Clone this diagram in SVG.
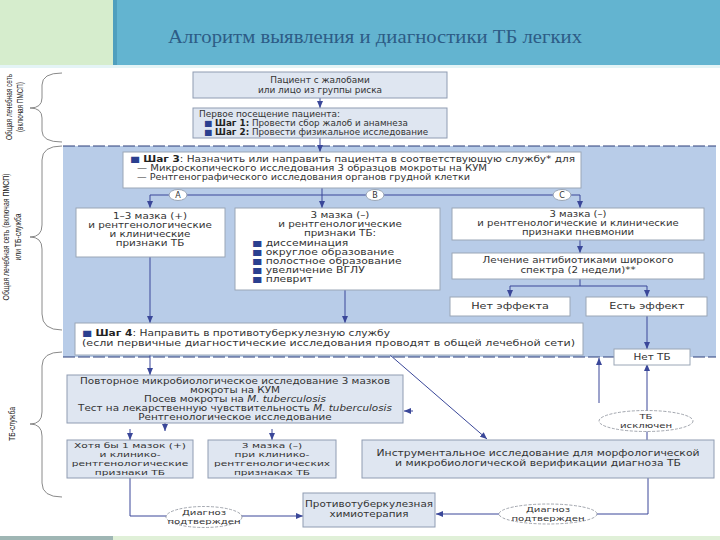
<svg xmlns="http://www.w3.org/2000/svg" width="720" height="540" viewBox="0 0 720 540">
<defs>
<style>
.t{font-family:"DejaVu Sans","Liberation Sans",sans-serif;font-size:8px;fill:#333}
.s{font-size:7.5px}
.c{text-anchor:middle}
.b{font-weight:bold;fill:#222}
.sq{fill:#2b3f8f}
.bx{fill:#ffffff;stroke:#9aa6b6;stroke-width:1}
.bg{fill:#dfe6f1;stroke:#8f9cb2;stroke-width:1}
.el{fill:#ffffff;stroke:#8a8f99;stroke-width:0.8;stroke-dasharray:3 1.5}
.ln{fill:none;stroke:#3a4799;stroke-width:1}
.br{fill:none;stroke:#8a8a8a;stroke-width:1}
.lbl{font-family:"Liberation Sans","DejaVu Sans",sans-serif;font-size:9px;fill:#222;text-anchor:middle}
</style>
<marker id="ar" markerWidth="7" markerHeight="6" refX="7" refY="3" orient="auto" markerUnits="userSpaceOnUse">
<path d="M0,0 L7,3 L0,6 z" fill="#3a4799"/>
</marker>
</defs>
<rect x="0" y="0" width="720" height="540" fill="#ffffff"/>
<!-- header -->
<rect x="0" y="0" width="113" height="65" fill="#d6edcd"/>
<rect x="113" y="0" width="607" height="65" fill="#63b4d0"/>
<rect x="113" y="0" width="4" height="65" fill="#4f9fbe"/>
<rect x="0" y="65" width="720" height="3" fill="#e4f4f6"/>
<text x="168" y="43" font-family="Liberation Serif,serif" font-size="18" fill="#2d5c86" textLength="414" lengthAdjust="spacingAndGlyphs">Алгоритм выявления и диагностики ТБ легких</text>
<!-- bottom strip -->
<rect x="0" y="536" width="113" height="4" fill="#9fb6b4"/>
<rect x="113" y="536" width="607" height="4" fill="#e0f0d8"/>
<!-- blue zone -->
<rect x="63" y="146" width="653" height="211" fill="#b8cce8"/>
<line x1="63" y1="146" x2="716" y2="146" stroke="#2c3e7a" stroke-width="1.2" stroke-dasharray="12 3"/>
<line x1="63" y1="357" x2="716" y2="357" stroke="#2c3e7a" stroke-width="1.2" stroke-dasharray="12 3"/>
<!-- braces and side labels -->
<g id="side">
<path class="br" d="M62,73 Q42,73 42,85 L42,98 Q42,108 30,108 Q42,108 42,118 L42,131 Q42,142 62,142"/>
<path class="br" d="M62,146 Q42,146 42,160 L42,225 Q42,237 30,237 Q42,237 42,249 L42,314 Q42,330 62,330"/>
<path class="br" d="M62,352 Q42,352 42,366 L42,412 Q42,424 30,424 Q42,424 42,436 L42,483 Q42,497 62,497"/>
<text class="lbl" transform="translate(12,107) rotate(-90)" textLength="66" lengthAdjust="spacingAndGlyphs">Общая лечебная сеть</text>
<text class="lbl" transform="translate(23,107) rotate(-90)" textLength="50" lengthAdjust="spacingAndGlyphs">(включая ПМСП)</text>
<text class="lbl" transform="translate(9,237) rotate(-90)" textLength="127" lengthAdjust="spacingAndGlyphs">Общая лечебная сеть (включая ПМСП)</text>
<text class="lbl" transform="translate(21,237) rotate(-90)" textLength="47" lengthAdjust="spacingAndGlyphs">или ТБ-служба</text>
<text class="lbl" transform="translate(15,424) rotate(-90)" textLength="34" lengthAdjust="spacingAndGlyphs">ТБ-служба</text>
</g>
<!-- connectors -->
<g id="connectors">
<path class="ln" d="M320,98 V108" marker-end="url(#ar)"/>
<path class="ln" d="M320,138 V152" marker-end="url(#ar)"/>
<path class="ln" d="M322,188 V208" marker-end="url(#ar)"/>
<path class="ln" d="M150,195 H580"/>
<path class="ln" d="M150,195 V208" marker-end="url(#ar)"/>
<path class="ln" d="M580,195 V208" marker-end="url(#ar)"/>
<path class="ln" d="M580,240 V253" marker-end="url(#ar)"/>
<path class="ln" d="M580,279 V286 M510,286 H647"/>
<path class="ln" d="M510,286 V297" marker-end="url(#ar)"/>
<path class="ln" d="M647,286 V297" marker-end="url(#ar)"/>
<path class="ln" d="M647,316 V349" marker-end="url(#ar)"/>
<path class="ln" d="M150,257 V323" marker-end="url(#ar)"/>
<path class="ln" d="M345,290 V323" marker-end="url(#ar)"/>
<path class="ln" d="M150,355 V375" marker-end="url(#ar)"/>
<path class="ln" d="M390,355 L487,439" marker-end="url(#ar)"/>
<path class="ln" d="M165,423 V431" marker-end="url(#ar)"/>
<path class="ln" d="M130,429 V440" marker-end="url(#ar)"/>
<path class="ln" d="M272,429 V440" marker-end="url(#ar)"/>
<path class="ln" d="M413,411 H404" marker-end="url(#ar)"/>
<path class="ln" d="M599,403 V358" marker-end="url(#ar)"/>
<path class="ln" d="M647,440 V364" marker-end="url(#ar)"/>
<path class="ln" d="M130,478 V516 H303" marker-end="url(#ar)"/>
<path class="ln" d="M648,478 V514 H436" marker-end="url(#ar)"/>
</g>
<!-- nodes -->
<g id="patient">
<rect class="bg" x="193" y="72" width="254" height="26"/>
<g transform="translate(320,0) scale(1.12,1)">
<text class="t c" x="0" y="83">Пациент с жалобами</text>
<text class="t c" x="0" y="93">или лицо из группы риска</text>
</g>
</g>
<g id="visit">
<rect class="bg" x="193" y="108" width="254" height="30"/>
<g transform="translate(199,0) scale(1.12,1)">
<text class="t" x="0" y="117">Первое посещение пациента:</text>
</g>
<g transform="translate(204,0) scale(1.1,1)">
<text class="t" x="0" y="126" font-size="8.5"><tspan class="sq">■</tspan> <tspan class="b">Шаг 1:</tspan> Провести сбор жалоб и анамнеза</text>
<text class="t" x="0" y="135"><tspan class="sq">■</tspan> <tspan class="b">Шаг 2:</tspan> Провести физикальное исследование</text>
</g>
</g>
<g id="step3">
<rect class="bx" x="123" y="152" width="458" height="36"/>
<text class="t" x="130" y="162" textLength="445" lengthAdjust="spacingAndGlyphs"><tspan class="sq">■</tspan> <tspan class="b">Шаг 3</tspan>: Назначить или направить пациента в соответствующую службу* для</text>
<text class="t" x="137" y="171" textLength="350" lengthAdjust="spacingAndGlyphs">— Микроскопического исследования 3 образцов мокроты на КУМ</text>
<text class="t" x="137" y="180" textLength="333" lengthAdjust="spacingAndGlyphs">— Рентгенографического исследования органов грудной клетки</text>
</g>
<g id="labelA"><ellipse class="bx" cx="178" cy="195" rx="9" ry="5.5"/><text class="t c" x="178" y="198">A</text></g>
<g id="labelB"><ellipse class="bx" cx="375" cy="195" rx="9" ry="5.5"/><text class="t c" x="375" y="198">B</text></g>
<g id="labelC"><ellipse class="bx" cx="562" cy="195" rx="9" ry="5.5"/><text class="t c" x="562" y="198">C</text></g>
<g id="boxA">
<rect class="bx" x="76" y="208" width="149" height="49"/>
<g transform="translate(150,0) scale(1.3,1)">
<text class="t c" x="0" y="219">1–3 мазка (+)</text>
<text class="t c" x="0" y="228">и рентгенологические</text>
<text class="t c" x="0" y="237">и клинические</text>
<text class="t c" x="0" y="246">признаки ТБ</text>
</g>
</g>
<g id="boxB">
<rect class="bx" x="235" y="208" width="205" height="82"/>
<g transform="translate(340,0) scale(1.3,1)">
<text class="t c" x="0" y="218">3 мазка (–)</text>
<text class="t c" x="0" y="227">и рентгенологические</text>
<text class="t c" x="0" y="236">признаки ТБ:</text>
</g>
<g transform="translate(252,0) scale(1.35,1)">
<text class="t" x="0" y="246"><tspan class="sq">■</tspan> диссеминация</text>
<text class="t" x="0" y="255"><tspan class="sq">■</tspan> округлое образование</text>
<text class="t" x="0" y="264"><tspan class="sq">■</tspan> полостное образование</text>
<text class="t" x="0" y="273"><tspan class="sq">■</tspan> увеличение ВГЛУ</text>
<text class="t" x="0" y="282"><tspan class="sq">■</tspan> плеврит</text>
</g>
</g>
<g id="boxC">
<rect class="bx" x="452" y="208" width="252" height="32"/>
<g transform="translate(578,0) scale(1.26,1)">
<text class="t c" x="0" y="217">3 мазка (–)</text>
<text class="t c" x="0" y="226">и рентгенологические и клинические</text>
<text class="t c" x="0" y="235">признаки пневмонии</text>
</g>
</g>
<g id="antibio">
<rect class="bx" x="452" y="253" width="252" height="26"/>
<g transform="translate(578,0) scale(1.29,1)">
<text class="t c" x="0" y="263">Лечение антибиотиками широкого</text>
<text class="t c" x="0" y="273">спектра (2 недели)**</text>
</g>
</g>
<g id="noeffect">
<rect class="bx" x="450" y="297" width="120" height="19"/>
<text class="t c" x="0" y="309" transform="translate(510,0) scale(1.4,1)">Нет эффекта</text>
</g>
<g id="effect">
<rect class="bx" x="586" y="297" width="121" height="19"/>
<text class="t c" x="0" y="309" transform="translate(647,0) scale(1.4,1)">Есть эффект</text>
</g>
<g id="step4">
<rect class="bx" x="75" y="323" width="508" height="32"/>
<text class="t" x="82" y="336" textLength="308" lengthAdjust="spacingAndGlyphs"><tspan class="sq">■</tspan> <tspan class="b">Шаг 4</tspan>: Направить в противотуберкулезную службу</text>
<text class="t" x="82" y="346" textLength="493" lengthAdjust="spacingAndGlyphs">(если первичные диагностические исследования проводят в общей лечебной сети)</text>
</g>
<g id="notb">
<rect class="bx" x="614" y="349" width="76" height="16"/>
<text class="t c" x="0" y="360" transform="translate(652,0) scale(1.3,1)">Нет ТБ</text>
</g>
<g id="repeat">
<rect class="bg" x="67" y="375" width="336" height="48"/>
<g transform="translate(235,0) scale(1.3,1)">
<text class="t c" x="0" y="384">Повторное микробиологическое исследование 3 мазков</text>
<text class="t c" x="0" y="393">мокроты на КУМ</text>
<text class="t c" x="0" y="402">Посев мокроты на <tspan font-style="italic">M. tuberculosis</tspan></text>
<text class="t c" x="0" y="411">Тест на лекарственную чувствительность <tspan font-style="italic">M. tuberculosis</tspan></text>
<text class="t c" x="0" y="420">Рентгенологическое исследование</text>
</g>
</g>
<g id="pos">
<rect class="bg" x="67" y="440" width="126" height="38"/>
<g transform="translate(130,0) scale(1.42,1)">
<text class="t c s" x="0" y="448">Хотя бы 1 мазок (+)</text>
<text class="t c s" x="0" y="457">и клинико-</text>
<text class="t c s" x="0" y="466">рентгенологические</text>
<text class="t c s" x="0" y="475">признаки ТБ</text>
</g>
</g>
<g id="neg">
<rect class="bg" x="208" y="440" width="128" height="38"/>
<g transform="translate(272,0) scale(1.42,1)">
<text class="t c s" x="0" y="448">3 мазка (–)</text>
<text class="t c s" x="0" y="457">при клинико-</text>
<text class="t c s" x="0" y="466">рентгенологических</text>
<text class="t c s" x="0" y="475">признаках ТБ</text>
</g>
</g>
<g id="instr">
<rect class="bg" x="362" y="440" width="352" height="38"/>
<g transform="translate(538,0) scale(1.35,1)">
<text class="t c" x="0" y="456">Инструментальное исследование для морфологической</text>
<text class="t c" x="0" y="466">и микробиологической верификации диагноза ТБ</text>
</g>
</g>
<g id="excluded">
<ellipse class="el" cx="646" cy="421" rx="47" ry="10.5"/>
<g transform="translate(646,0) scale(1.35,1)">
<text class="t c s" x="0" y="419">ТБ</text>
<text class="t c s" x="0" y="428">исключен</text>
</g>
</g>
<g id="conf1">
<ellipse class="el" cx="204" cy="517" rx="38" ry="10.5"/>
<g transform="translate(204,0) scale(1.35,1)">
<text class="t c s" x="0" y="515">Диагноз</text>
<text class="t c s" x="0" y="524">подтвержден</text>
</g>
</g>
<g id="conf2">
<ellipse class="el" cx="548" cy="514" rx="49" ry="10"/>
<g transform="translate(548,0) scale(1.35,1)">
<text class="t c s" x="0" y="512">Диагноз</text>
<text class="t c s" x="0" y="521">подтвержден</text>
</g>
</g>
<g id="chemo">
<rect class="bg" x="303" y="493" width="132" height="34"/>
<g transform="translate(369,0) scale(1.3,1)">
<text class="t c" x="0" y="507">Противотуберкулезная</text>
<text class="t c" x="0" y="517">химиотерапия</text>
</g>
</g>
</svg>
